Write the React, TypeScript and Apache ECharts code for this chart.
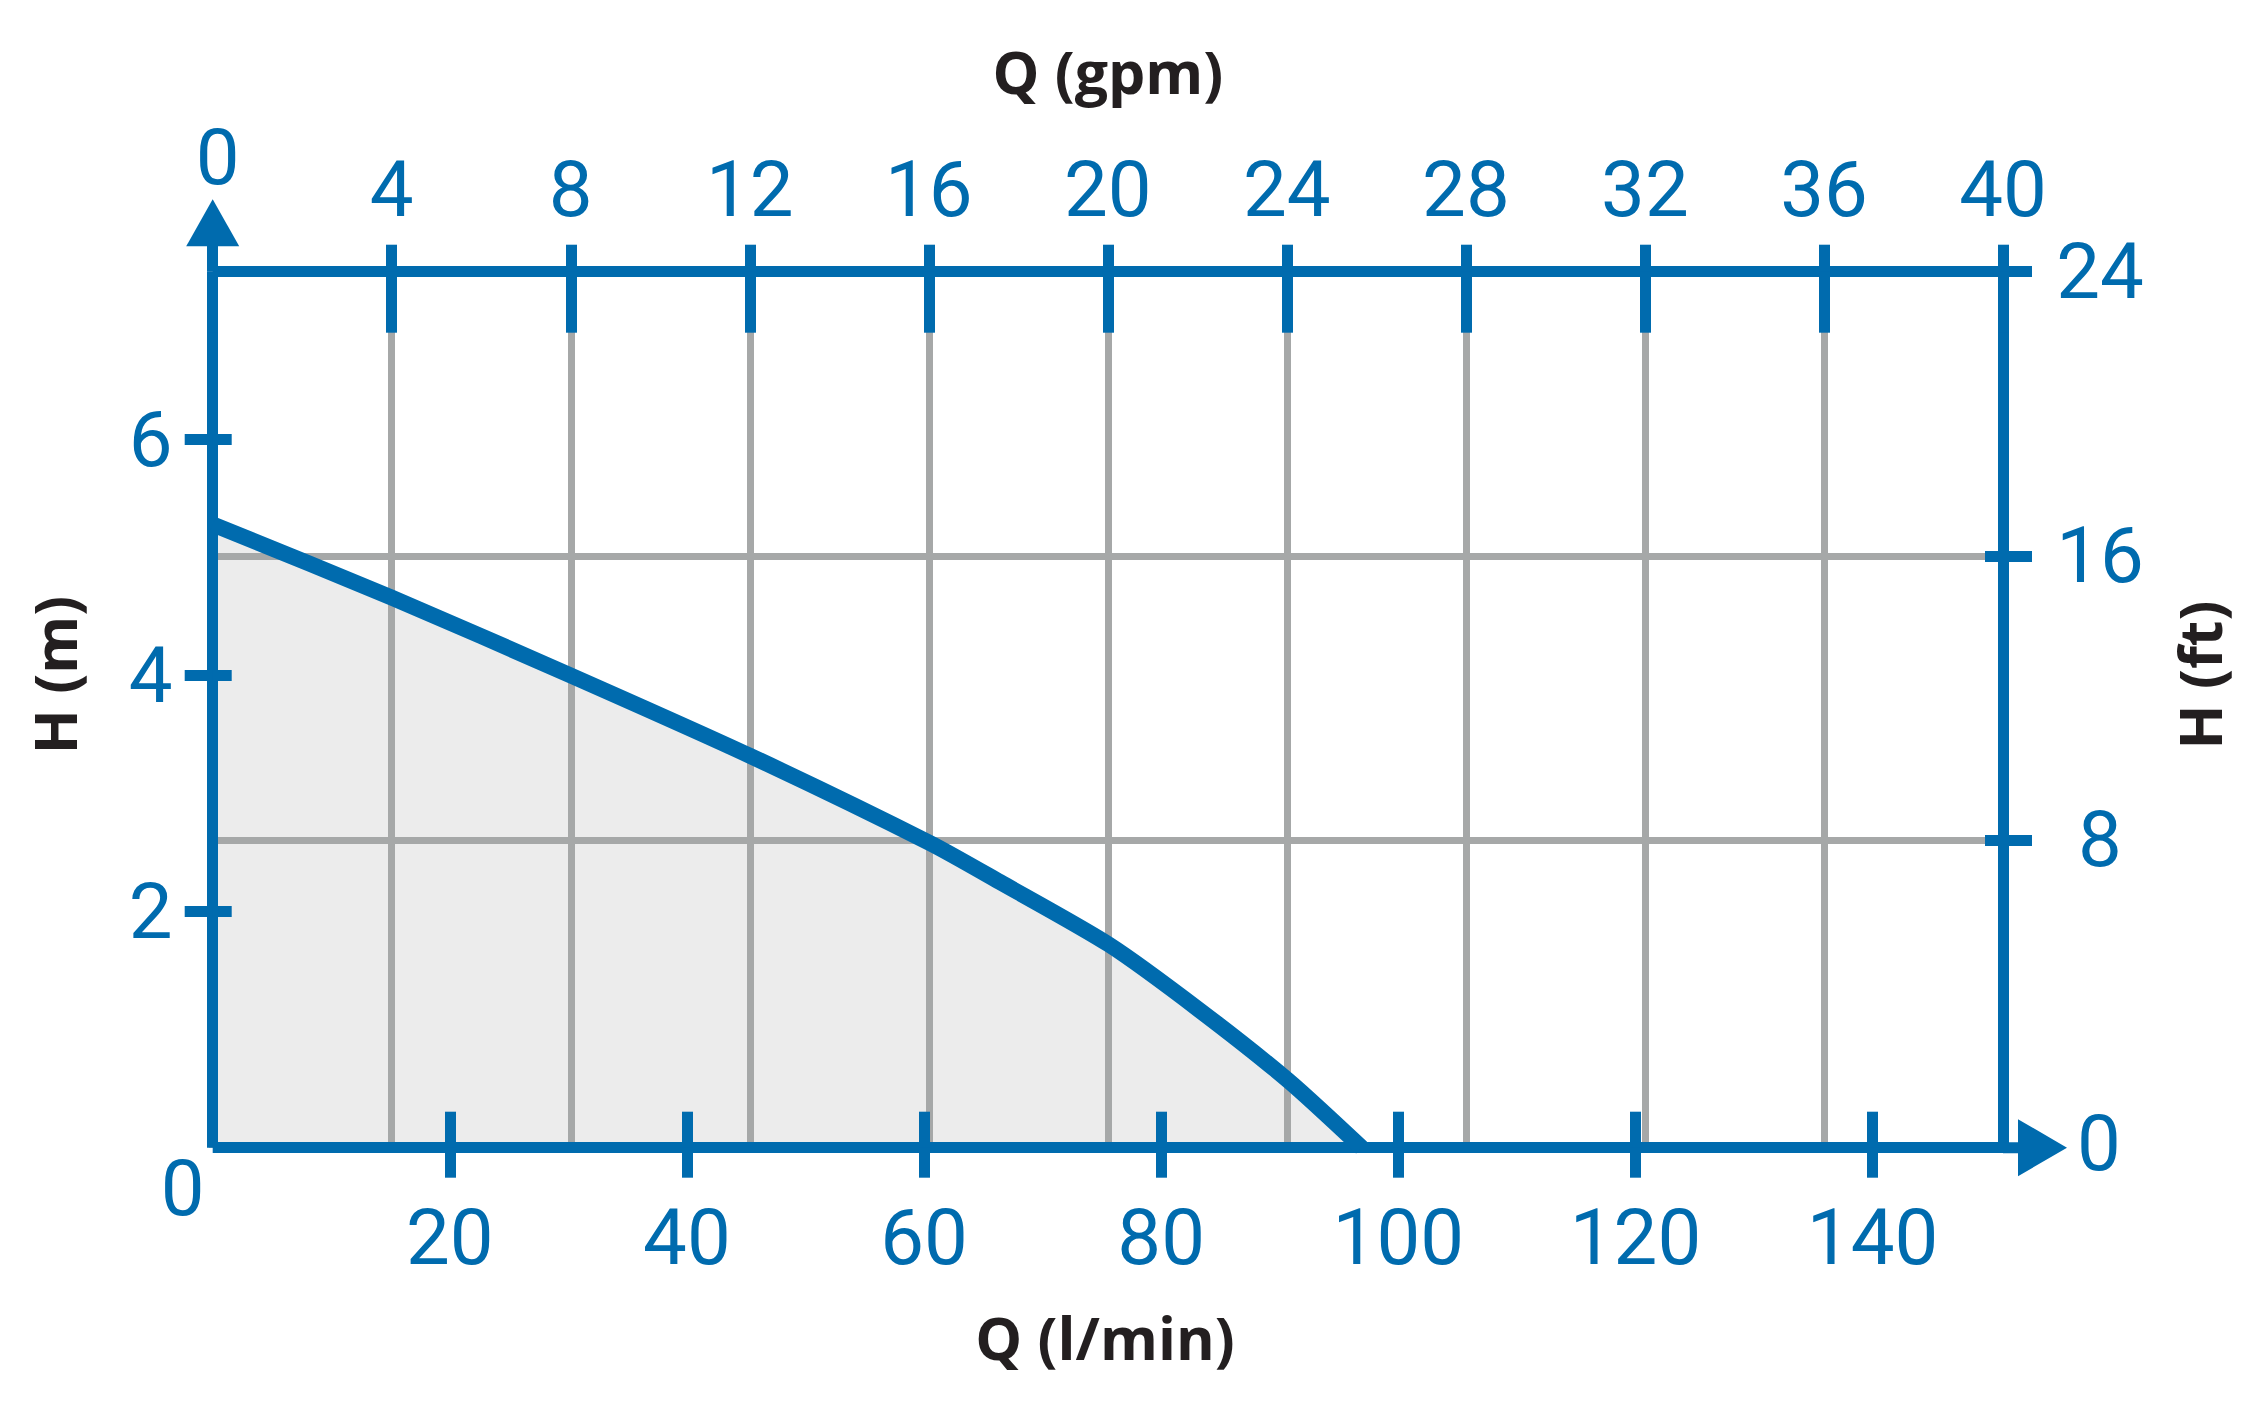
import React, { useEffect, useRef } from "react";
import * as echarts from "echarts";

// ---- data ----
const Q_LPM = [0, 15.1, 30.2, 45.3, 60.5, 66.4, 75.6, 83.3, 90.7, 96.9];
const H_M = [5.28, 4.66, 4.0, 3.32, 2.58, 2.25, 1.72, 1.16, 0.57, 0];

const LPM_TICKS = [20, 40, 60, 80, 100, 120, 140];
const GPM_TICKS = [0, 4, 8, 12, 16, 20, 24, 28, 32, 36, 40];
const GPM_LABELS = [4, 8, 12, 16, 20, 24, 28, 32, 36, 40];
const M_TICKS = [2, 4, 6];
const FT_TICKS = [8, 16, 24];
const FT_GRID = [8, 16];

const TITLE_TOP = "Q (gpm)";
const TITLE_BOTTOM = "Q (l/min)";
const TITLE_LEFT = "H (m)";
const TITLE_RIGHT = "H (ft)";

// ---- styling / layout ----
const W = 2252;
const H = 1427;
const G_LEFT = 212.7;
const G_TOP = 271.7;
const G_RIGHT_X = 2003;
const G_BOTTOM_Y = 1147.7;
const FT_MIN = -0.667; // the printed ft scale puts its 8/16 marks slightly higher
const BLUE = "#006bae";
const GRAY = "#a6a8a8";
const FILL = "#ececec";
const DARK = "#231f20";
const LABEL_FONT = "Roboto";
const TITLE_FONT = "'Open Sans'";
const LABEL_SIZE = 78;
const AXIS_W = 11;
// arrow head with a short stem so the baseline reaches past the right frame
const ARROW_STEM = "path://M28.5 0 L57 49 L34 49 L34 64 L23 64 L23 49 L0 49 Z";

export default function App() {
  const ref = useRef<HTMLDivElement>(null);

  useEffect(() => {
    if (!ref.current) return;
    const chart = echarts.init(ref.current, undefined, { renderer: "svg" });
    const data = Q_LPM.map((q, i) => [q, H_M[i]]);

    const lbl = { color: BLUE, fontSize: LABEL_SIZE, fontFamily: LABEL_FONT };
    const line = { show: true, onZero: false, lineStyle: { color: BLUE, width: AXIS_W, cap: "butt" } };
    const noLine = { show: false, onZero: false };
    const tickStyle = { color: BLUE, width: AXIS_W, cap: "butt" };

    const titleText = (text: string, x: number, y: number, rotation = 0) => ({
      type: "text",
      x,
      y,
      rotation,
      z: 10,
      style: {
        text,
        fill: DARK,
        fontSize: 59,
        fontWeight: "bold",
        fontFamily: TITLE_FONT,
        align: "center",
        verticalAlign: "middle",
        textAlign: "center",
        textVerticalAlign: "middle",
      },
    });
    const zeroText = (x: number, y: number) => ({
      type: "text",
      x,
      y,
      z: 10,
      style: {
        text: "0",
        fill: BLUE,
        fontSize: LABEL_SIZE,
        fontFamily: LABEL_FONT,
        align: "center",
        verticalAlign: "middle",
        textAlign: "center",
        textVerticalAlign: "middle",
      },
    });

    chart.setOption({
      animation: false,
      backgroundColor: "#ffffff",
      grid: {
        left: G_LEFT,
        top: G_TOP,
        right: W - G_RIGHT_X,
        bottom: H - G_BOTTOM_Y,
        containLabel: false,
      },
      xAxis: [
        {
          type: "value",
          position: "bottom",
          min: 0,
          max: 151,
          z: 3,
          axisLine: {
            ...line,
            symbol: ["none", ARROW_STEM],
            symbolSize: [57, 64],
            symbolOffset: [0, 32],
          },
          axisTick: { show: true, customValues: LPM_TICKS, length: 30, lineStyle: tickStyle },
          axisLabel: { show: true, customValues: LPM_TICKS, margin: 51, ...lbl },
          splitLine: { show: false },
        },
        {
          type: "value",
          position: "bottom",
          min: 0,
          max: 151,
          z: 3,
          axisLine: noLine,
          axisTick: { show: true, inside: true, customValues: LPM_TICKS, length: 36, lineStyle: tickStyle },
          axisLabel: { show: false },
          splitLine: { show: false },
        },
        {
          type: "value",
          position: "top",
          min: 0,
          max: 40,
          interval: 4,
          z: 3,
          axisLine: line,
          axisTick: { show: true, customValues: GPM_TICKS, length: 27, lineStyle: tickStyle },
          axisLabel: { show: true, customValues: GPM_LABELS, margin: 43, ...lbl },
          splitLine: { show: false },
        },
        {
          type: "value",
          position: "top",
          min: 0,
          max: 40,
          interval: 4,
          z: 3,
          axisLine: noLine,
          axisTick: { show: true, inside: true, customValues: GPM_TICKS, length: 61, lineStyle: tickStyle },
          axisLabel: { show: false },
          splitLine: { show: false },
        },
        {
          type: "value",
          position: "top",
          min: 0,
          max: 40,
          interval: 4,
          z: 2,
          axisLine: noLine,
          axisTick: { show: false },
          axisLabel: { show: false },
          splitLine: { show: true, lineStyle: { color: GRAY, width: 7 } },
        },
      ],
      yAxis: [
        {
          type: "value",
          position: "left",
          min: 0,
          max: 7.42,
          z: 3,
          axisLine: {
            ...line,
            symbol: ["none", "triangle"],
            symbolSize: [53, 47],
            symbolOffset: [0, 49],
          },
          axisTick: { show: true, customValues: M_TICKS, length: 28, lineStyle: tickStyle },
          axisLabel: { show: true, customValues: M_TICKS, margin: 40, ...lbl },
          splitLine: { show: false },
        },
        {
          type: "value",
          position: "left",
          min: 0,
          max: 7.42,
          z: 3,
          axisLine: noLine,
          axisTick: { show: true, inside: true, customValues: M_TICKS, length: 19, lineStyle: tickStyle },
          axisLabel: { show: false },
          splitLine: { show: false },
        },
        {
          type: "value",
          position: "right",
          min: FT_MIN,
          max: 24,
          z: 3,
          axisLine: line,
          axisTick: { show: true, customValues: FT_TICKS, length: 29, lineStyle: tickStyle },
          axisLabel: { show: true, customValues: FT_TICKS, margin: 97, align: "center", ...lbl },
          splitLine: { show: false },
        },
        {
          type: "value",
          position: "right",
          min: FT_MIN,
          max: 24,
          z: 3,
          axisLine: noLine,
          axisTick: { show: true, inside: true, customValues: FT_TICKS, length: 18, lineStyle: tickStyle },
          axisLabel: { show: false },
          splitLine: { show: false },
        },
        {
          type: "value",
          position: "right",
          min: FT_MIN,
          max: 24,
          z: 2,
          axisLine: noLine,
          axisTick: { show: false, customValues: FT_GRID },
          axisLabel: { show: false },
          splitLine: { show: true, lineStyle: { color: GRAY, width: 7 } },
        },
      ],
      series: [
        {
          type: "line",
          name: "area",
          xAxisIndex: 0,
          yAxisIndex: 0,
          data,
          smooth: 0.25,
          symbol: "none",
          showSymbol: false,
          z: 1,
          lineStyle: { width: 0, opacity: 0 },
          areaStyle: { color: FILL, opacity: 1 },
          silent: true,
        },
        {
          type: "line",
          name: "H",
          xAxisIndex: 0,
          yAxisIndex: 0,
          data,
          smooth: 0.25,
          symbol: "none",
          showSymbol: false,
          z: 4,
          lineStyle: { width: 16, color: BLUE, cap: "butt", join: "miter" },
          silent: true,
        },
      ],
      graphic: [
        titleText(TITLE_TOP, (G_LEFT + G_RIGHT_X) / 2, 71),
        titleText(TITLE_BOTTOM, 1105, 1337),
        titleText(TITLE_LEFT, 54, 675, Math.PI / 2),
        titleText(TITLE_RIGHT, 2199, 675, Math.PI / 2),
        zeroText(G_LEFT + 5, G_TOP - 114),
        zeroText(G_LEFT - 30, G_BOTTOM_Y + 41),
        zeroText(G_RIGHT_X + 96, G_BOTTOM_Y - 4),
      ],
    });

    return () => chart.dispose();
  }, []);

  return (
    <div
      ref={ref}
      style={{ position: "absolute", left: 0, top: 0, width: W, height: H }}
    />
  );
}
